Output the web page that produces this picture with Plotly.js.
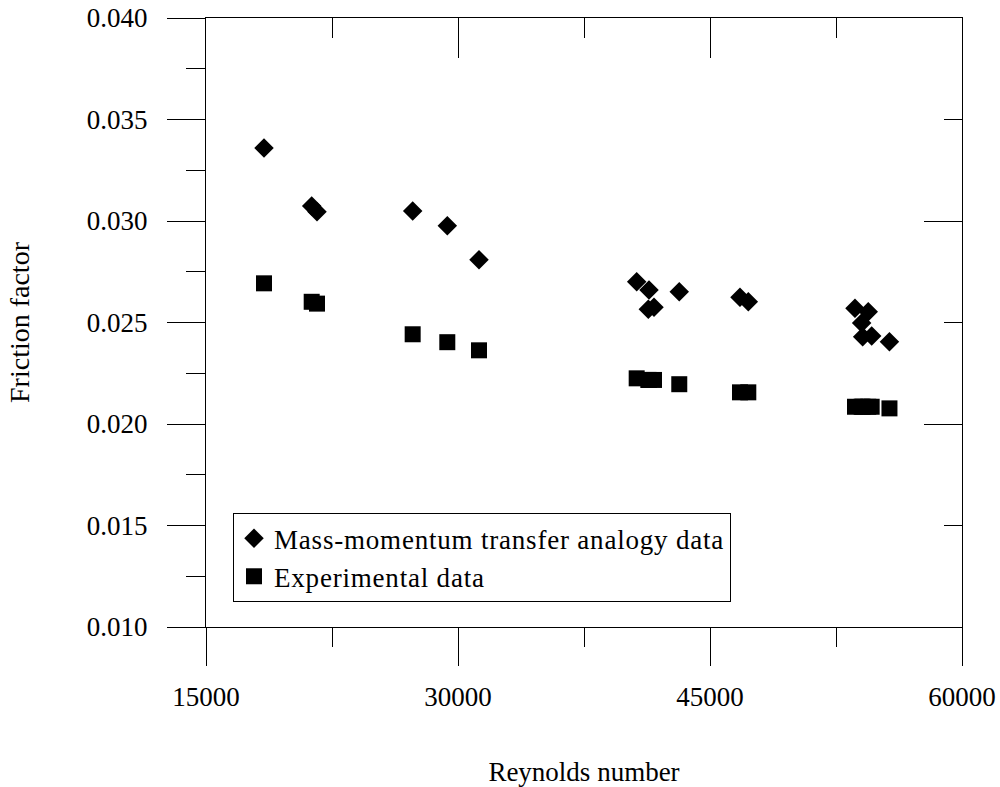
<!DOCTYPE html>
<html>
<head>
<meta charset="utf-8">
<script src="https://cdn.plot.ly/plotly-3.0.1.min.js"></script>
<style>
  html, body { margin: 0; padding: 0; background: #fff; }
  #chart { width: 1000px; height: 787px; }
  .legendtext { letter-spacing: 0.8px; }
</style>
</head>
<body>
<div id="chart"></div>
<script>
// Reynolds numbers for each run
const reynolds = [18452, 21291, 21607, 27302, 29363, 31250,
                  40636, 41368, 41328, 41667, 43171,
                  46784, 47280,
                  53629, 54420, 54027, 54087, 54623, 55682];
// Friction factor from mass-momentum transfer analogy
const analogyF = [0.03360, 0.03074, 0.03046, 0.03049, 0.02977, 0.02809,
                  0.02701, 0.02660, 0.02565, 0.02575, 0.02652,
                  0.02624, 0.02602,
                  0.02570, 0.02553, 0.02498, 0.02430, 0.02434, 0.02405];
// Friction factor, experimental
const experimentalF = [0.02693, 0.02602, 0.02593, 0.02442, 0.02403, 0.02363,
                       0.02225, 0.02217, 0.02217, 0.02217, 0.02196,
                       0.02156, 0.02156,
                       0.02085, 0.02085, 0.02085, 0.02085, 0.02085, 0.02077];
const seriesNames = ["Mass-momentum transfer analogy data", "Experimental data"];
const xTitle = "Reynolds number";
const yTitle = "Friction factor";

const FONT = '"Liberation Serif", "Times New Roman", serif';

const traces = [
  {
    x: reynolds, y: analogyF, type: 'scatter', mode: 'markers',
    name: seriesNames[0],
    marker: { symbol: 'diamond', size: 15, color: '#000', line: { width: 0 } }
  },
  {
    x: reynolds, y: experimentalF, type: 'scatter', mode: 'markers',
    name: seriesNames[1],
    marker: { symbol: 'square', size: 16, color: '#000', line: { width: 0 } }
  },
  { x: [], y: [], xaxis: 'x2', yaxis: 'y2', type: 'scatter', mode: 'markers',
    showlegend: false, hoverinfo: 'skip' }
];

const layout = {
  width: 1000, height: 787,
  margin: { l: 206, r: 38, t: 18, b: 160 },
  paper_bgcolor: '#fff', plot_bgcolor: '#fff',
  font: { family: FONT, color: '#000', size: 27 },
  showlegend: true,
  legend: {
    x: 0.0357, y: 0.187, xanchor: 'left', yanchor: 'top',
    bgcolor: '#fff', bordercolor: '#000', borderwidth: 1,
    font: { family: FONT, size: 27, color: '#000' },
    itemwidth: 30, tracegroupgap: 0
  },
  xaxis: {
    range: [15000, 60000], tick0: 15000, dtick: 15000,
    tickformat: 'd', showgrid: false, zeroline: false,
    showline: true, linecolor: '#000', linewidth: 1,
    ticks: 'outside', ticklen: 38, tickwidth: 1, tickcolor: '#000',
    minor: { dtick: 7500, tick0: 15000, ticks: 'outside', ticklen: 19, tickwidth: 1, tickcolor: '#000', showgrid: false },
    tickfont: { family: FONT, size: 27 },
    ticklabelstandoff: 8,
    title: { text: xTitle, font: { family: FONT, size: 27 }, standoff: 50 }
  },
  yaxis: {
    range: [0.010, 0.040], tick0: 0.010, dtick: 0.005,
    tickformat: '.3f', showgrid: false, zeroline: false,
    showline: true, linecolor: '#000', linewidth: 1,
    ticks: 'outside', ticklen: 38, tickwidth: 1, tickcolor: '#000',
    minor: { dtick: 0.0025, tick0: 0.010, ticks: 'outside', ticklen: 19, tickwidth: 1, tickcolor: '#000', showgrid: false },
    tickfont: { family: FONT, size: 27 },
    ticklabelstandoff: 14,
    title: { text: yTitle, font: { family: FONT, size: 28 }, standoff: 49 }
  },
  xaxis2: {
    overlaying: 'x', side: 'top', anchor: 'y2',
    range: [15000, 60000], tick0: 15000, dtick: 15000,
    showticklabels: false, showgrid: false, zeroline: false,
    showline: true, linecolor: '#000', linewidth: 1,
    ticks: 'inside', ticklen: 40, tickwidth: 1, tickcolor: '#000',
    minor: { dtick: 7500, tick0: 15000, ticks: 'inside', ticklen: 20, tickwidth: 1, tickcolor: '#000', showgrid: false }
  },
  yaxis2: {
    overlaying: 'y', side: 'right', anchor: 'x2',
    range: [0.010, 0.040], tick0: 0.010, dtick: 0.010,
    showticklabels: false, showgrid: false, zeroline: false,
    showline: true, linecolor: '#000', linewidth: 1,
    ticks: 'inside', ticklen: 38, tickwidth: 1, tickcolor: '#000',
    minor: { dtick: 0.005, tick0: 0.010, ticks: 'inside', ticklen: 18, tickwidth: 1, tickcolor: '#000', showgrid: false }
  }
};

Plotly.newPlot('chart', traces, layout, { displayModeBar: false, staticPlot: true });
</script>
</body>
</html>
